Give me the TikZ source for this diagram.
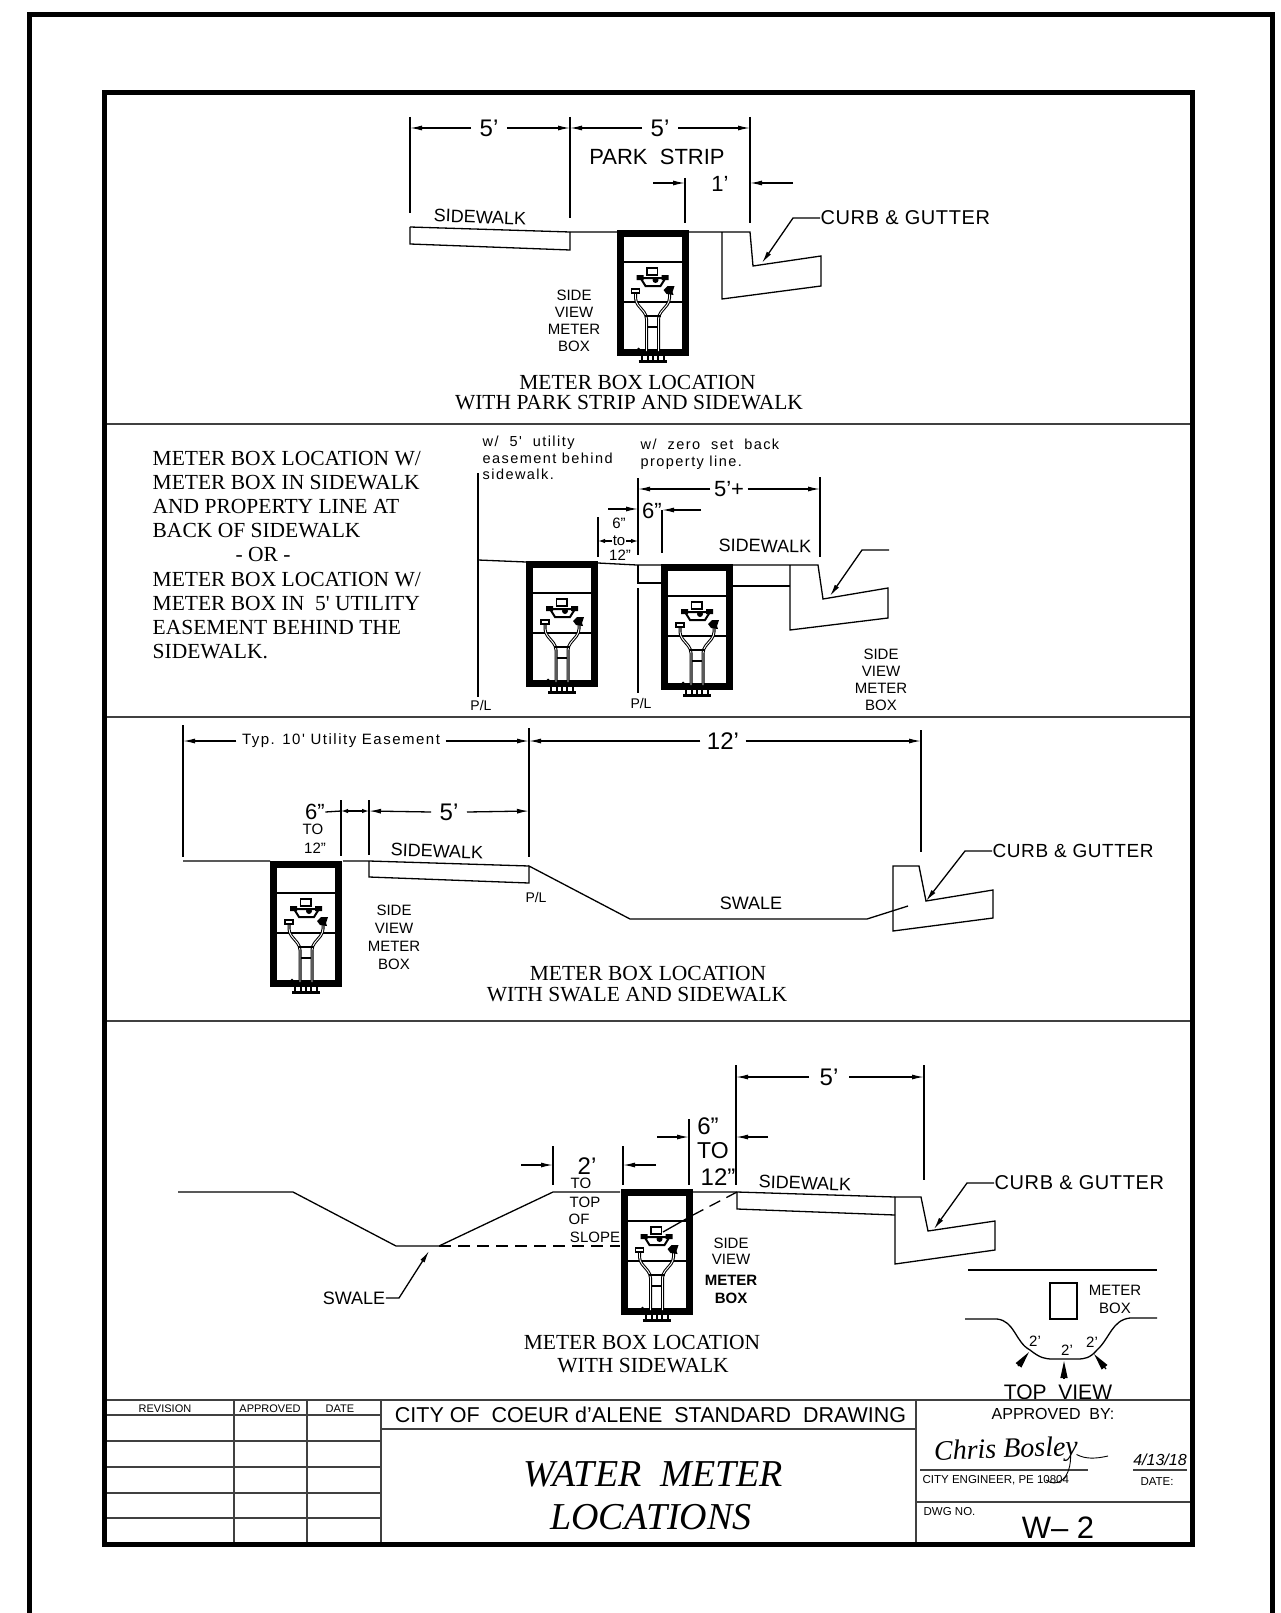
\documentclass[tikz,border=0pt]{standalone}
\usepackage{fontspec}
\setmainfont{Liberation Sans}
\newfontfamily\tnrfont{Liberation Serif}
\newfontfamily\cadwide[LetterSpace=10]{Liberation Sans}
\newfontfamily\cadmid[LetterSpace=3]{Liberation Sans}
\usepackage{tikz}
\usetikzlibrary{arrows.meta}
\tikzset{
	x=1pt, y=-1pt,
	every path/.style={line width=1.3pt},
	lbl/.style={inner sep=0pt, font=\fontsize{#1}{#1}\selectfont},
	lbl/.default=18,
	tnr/.style={inner sep=0pt, font=\tnrfont\fontsize{21.5}{24.2}\selectfont, align=left},
	note/.style={inner sep=0pt, anchor=west, align=left, font=\cadwide\fontsize{14.5}{16.5}\selectfont},
	curbtxt/.style={inner sep=0pt, anchor=west, font=\cadmid\fontsize{20}{20}\selectfont},
	sideview/.style={inner sep=0pt, align=center, font=\fontsize{15}{17}\selectfont},
	dimtip/.style={-{Latex[length=12pt,width=5pt]}},
	smalltip/.style={-{Latex[length=7pt,width=4.5pt]}},
	wedge/.style={-{Triangle[length=17pt,width=7pt]}},
	cutline/.style={dashed, dash pattern=on 12pt off 7pt},
	heavy/.style={line width=5pt},
	rule/.style={line width=1.8pt, black!75},
	meterbox/.pic={
		\draw[line width=7pt] (-32.5,3.5) rectangle (32.5,122.5);
		\draw (-29,32) -- (29,32) (-29,72) -- (29,72);
		% pipes
		\foreach \mcol/\mwid in {black/3pt, white/0.9pt}{
			\draw[\mcol, line width=\mwid, rounded corners=4pt] (-17,62) -- (-17,72) -- (-6,85) -- (-6,121);
			\draw[\mcol, line width=\mwid, rounded corners=4pt] (17,62) -- (17,72) -- (6,85) -- (6,121);
		}
		\draw[line width=2pt] (-8,86) -- (8,86);
		\draw (-5,97) -- (5,97);
		% meter
		\draw[line width=1.5pt] (-5.5,38) rectangle (5,45);
		\draw[line width=2pt] (-12,48) -- (13,48) -- (8,56) -- (-7,56) -- cycle;
		\fill (-16,45) rectangle (-9,50) (9,45) rectangle (16,50) (3,50) circle (3);
		\draw[line width=1.8pt] (-21,59) rectangle (-13,63);
		\fill (11,60) -- (15,56) -- (22,56) -- (20,62) -- (21,65) -- (14,64) -- cycle;
		% feet
		\draw[line width=3pt] (-14,131.5) -- (14,131.5);
		\foreach \mfoot in {-11,-5,0,5,11}{
			\draw[line width=2pt] (\mfoot,126) -- (\mfoot,132);
		}
		\fill (-14,119) circle (1.5);
	}
}
\begin{document}
\begin{tikzpicture}
	% Frames and section lines:
	\useasboundingbox (0,0) rectangle (1281,1613);
	\draw[heavy] (29,1613) |- (1272,15) -- (1272,1613);
	\draw[rule] (104,424) -- (1192,424);
	\draw[rule] (104,717) -- (1192,717);
	\draw[rule] (104,1021) -- (1192,1021);

	% Park strip and sidewalk:
	\draw (410,227) -- (570,232) -- (617,232);
	\draw (410,227) -- (410,244) -- (570,250) -- (570,232);
	\draw (688,232) -- (750,232) -- (753,266) -- (821,256) -- (821,286) -- (722,299) -- (722,232);
	\pic (boxA) at (652.5,230) {meterbox};
	\draw (410,117) -- (410,213);
	\draw (570,117) -- (570,218);
	\draw (750,117) -- (750,223);
	\draw (685,178) -- (685,223);
	\node[lbl=24] (dimAa) at (489,128) {5'};
	\node[lbl=24] (dimAb) at (660,128) {5'};
	\node[lbl=22] (dimAc) at (720,184) {1'};
	\draw[dimtip] (dimAa.west) ++(-8,0) -- (410,128);
	\draw[dimtip] (dimAa.east) ++(8,0) -- (570,128);
	\draw[dimtip] (dimAb.west) ++(-8,0) -- (570,128);
	\draw[dimtip] (dimAb.east) ++(8,0) -- (750,128);
	\draw[dimtip] (653,183) -- (685,183);
	\draw[dimtip] (793,183) -- (750,183);
	\node[lbl=22] (parkA) at (657,157) {PARK~~STRIP};
	\node[lbl=18, rotate=-2] (walkA) at (480,217) {SIDEWALK};
	\node[curbtxt] (curbA) at (820,218) {CURB \& GUTTER};
	\draw[dimtip] (curbA.west) -- (793,218) -- (762,263);
	\node[sideview] (viewA) at (574,321) {SIDE\\VIEW\\METER\\BOX};
	\node[tnr] (capAa) at (637.5,382) {METER BOX LOCATION};
	\node[tnr] (capAb) at (629,403) {WITH PARK STRIP AND SIDEWALK};

	% Property line at back of sidewalk:
	\node[tnr, anchor=west] (noteB) at (152,555) {METER BOX LOCATION W/\\METER BOX IN SIDEWALK\\AND PROPERTY LINE AT\\BACK OF SIDEWALK\\\hspace{83pt}- OR -\\METER BOX LOCATION W/\\METER BOX IN\ \ 5' UTILITY\\EASEMENT BEHIND THE\\SIDEWALK.};
	\draw (478,473) -- (478,697);
	\draw (478,560) -- (526,562) (598,563) -- (637,565) -- (661,565);
	\draw (733,565) -- (818,565) -- (823,599) -- (888,588) -- (888,618) -- (790,630) -- (790,565);
	\draw (733,586) -- (790,586);
	\draw (638,565) -- (638,583) -- (661,583);
	\draw (638,588) -- (638,693);
	\pic (boxBa) at (562,561) {meterbox};
	\pic (boxBb) at (697,564) {meterbox};
	\draw (638,478) -- (638,555);
	\draw (820,477) -- (820,557);
	\draw (662,510) -- (662,553);
	\draw (598,517) -- (598,557);
	\node[note] (noteBa) at (482,458) {w/~~5'~~utility\\easement~behind\\sidewalk.};
	\node[note] (noteBb) at (640,454) {w/~~zero~~set~~back\\property~line.};
	\node[lbl=22] (dimBa) at (729,489) {5'+};
	\draw[dimtip] (dimBa.west) ++(-3,0) -- (638,489);
	\draw[dimtip] (dimBa.east) ++(3,0) -- (820,489);
	\node[lbl=22] (dimBb) at (652,511) {6"};
	\draw[dimtip] (608,509) -- (638,509);
	\draw[dimtip] (701,510) -- (662,510);
	\node[lbl=15] (dimBc) at (619,523) {6"};
	\node[lbl=15] (dimBd) at (619,541) {to};
	\node[lbl=15] (dimBe) at (620,555) {12"};
	\draw[smalltip] (dimBd.west) -- (598,541);
	\draw[smalltip] (dimBd.east) -- (638,541);
	\node[lbl=18, rotate=-1] (walkB) at (765,546) {SIDEWALK};
	\coordinate (leadB) at (889,550);
	\draw[dimtip] (leadB) -- (862,550) -- (830,596);
	\node[lbl=14] (plBa) at (481,705) {P/L};
	\node[lbl=14] (plBb) at (641,703) {P/L};
	\node[sideview] (viewB) at (881,680) {SIDE\\VIEW\\METER\\BOX};

	% Swale and sidewalk:
	\draw (183,861) -- (270,861) (343,861) -- (369,861) -- (529,866);
	\draw (369,861) -- (369,877) -- (529,883) -- (529,866) -- (630,919) -- (867,919) -- (908,906);
	\draw (893,866) -- (919,866) -- (926,901) -- (993,890) -- (993,918) -- (893,931) -- cycle;
	\pic (boxC) at (306,861) {meterbox};
	\draw (183,725) -- (183,857);
	\draw (529,728) -- (529,857);
	\draw (921,730) -- (921,852);
	\draw[line width=1.8pt] (341,800) -- (341,856);
	\draw (369,800) -- (369,855);
	\node[inner sep=0pt, font=\cadwide\fontsize{15}{15}\selectfont] (dimCa) at (341,741) {Typ. 10' Utility Easement};
	\draw[dimtip] (dimCa.west) ++(-5,0) -- (183,741);
	\draw[dimtip] (dimCa.east) ++(5,0) -- (529,741);
	\node[lbl=24] (dimCb) at (723,741) {12'};
	\draw[dimtip] (dimCb.west) ++(-6,0) -- (529,741);
	\draw[dimtip] (dimCb.east) ++(6,0) -- (921,741);
	\node[lbl=22] (dimCc) at (315,812) {6"};
	\node[lbl=15] (dimCd) at (313,829) {TO};
	\node[lbl=15] (dimCe) at (315,848) {12"};
	\draw (dimCc.east) -- (341,811);
	\draw[{Latex[length=7pt,width=4.5pt]}-{Latex[length=7pt,width=4.5pt]}] (341,811) -- (369,811);
	\node[lbl=24] (dimCf) at (449,812) {5'};
	\draw[dimtip] (dimCf.west) ++(-8,0) -- (369,811);
	\draw[dimtip] (dimCf.east) ++(8,0) -- (529,811);
	\node[lbl=18, rotate=-2] (walkC) at (437,851) {SIDEWALK};
	\node[lbl=14] (plC) at (536,897) {P/L};
	\node[sideview, font=\fontsize{15}{18}\selectfont] (viewC) at (394,937) {SIDE\\VIEW\\METER\\BOX};
	\node[lbl=18] (swaleC) at (751,903) {SWALE};
	\node[curbtxt, font=\cadmid\fontsize{19}{19}\selectfont] (curbC) at (992,851) {CURB \& GUTTER};
	\draw[dimtip] (curbC.west) -- (965,851) -- (926,901);
	\node[tnr] (capCa) at (648,973) {METER BOX LOCATION};
	\node[tnr] (capCb) at (637,995) {WITH SWALE AND SIDEWALK};

	% Sidewalk only:
	\draw (178,1192) -- (293,1192) -- (396,1246) -- (439,1246) -- (553,1192) -- (620,1192);
	\draw[cutline] (439,1246) -- (620,1246);
	\draw (693,1192) -- (737,1192) -- (895,1197);
	\draw (737,1192) -- (737,1209) -- (895,1215);
	\draw (895,1197) -- (921,1197) -- (928,1231) -- (995,1221) -- (995,1250) -- (895,1264) -- cycle;
	\pic (boxD) at (656.5,1189) {meterbox};
	\draw[cutline] (737,1192) -- (693,1215);
	\draw (693,1215) -- (663,1232);
	\draw (736,1065) -- (736,1185);
	\draw (924,1065) -- (924,1180);
	\draw (689,1119) -- (689,1185);
	\draw (553,1146) -- (553,1185);
	\draw (623,1146) -- (623,1185);
	\node[lbl=24] (dimDa) at (829,1077) {5'};
	\draw[dimtip] (dimDa.west) ++(-10,0) -- (736,1077);
	\draw[dimtip] (dimDa.east) ++(10,0) -- (924,1077);
	\node[lbl=24] (dimDb) at (708,1126) {6"};
	\node[lbl=23] (dimDc) at (713,1151) {TO};
	\node[lbl=24] (dimDd) at (718,1177) {12"};
	\draw[dimtip] (657,1137) -- (689,1137);
	\draw[dimtip] (768,1137) -- (736,1137);
	\node[lbl=24] (dimDe) at (587,1166) {2'};
	\node[lbl=15] (dimDf) at (581,1183) {TO};
	\node[lbl=15] (dimDg) at (585,1202) {TOP};
	\node[lbl=15] (dimDh) at (579,1219) {OF};
	\node[lbl=15] (dimDi) at (595,1237) {SLOPE};
	\draw[dimtip] (521,1165) -- (553,1165);
	\draw[dimtip] (656,1165) -- (623,1165);
	\node[lbl=18, rotate=-2] (walkD) at (805,1183) {SIDEWALK};
	\node[sideview, font=\fontsize{15}{16.5}\selectfont] (viewD) at (731,1251) {SIDE\\VIEW};
	\node[sideview, font=\bfseries\fontsize{15}{18}\selectfont] (boldD) at (731,1289) {METER\\BOX};
	\node[curbtxt] (curbD) at (994,1183) {CURB \& GUTTER};
	\draw[dimtip] (curbD.west) -- (967,1183) -- (934,1229);
	\node[lbl=18] (swaleD) at (354,1298) {SWALE};
	\draw[dimtip] (swaleD.east) -- (399,1298) -- (429,1251);
	\node[tnr] (capDa) at (642,1342) {METER BOX LOCATION};
	\node[tnr] (capDb) at (643,1366) {WITH SIDEWALK};

	% Top view:
	\draw (968,1270) -- (1157,1270);
	\draw (1050,1283) rectangle (1077,1319);
	\node[sideview, font=\fontsize{15}{18}\selectfont] (viewE) at (1115,1299) {METER\\BOX};
	\draw (965,1319) -- (997,1319) .. controls (1015,1321) and (1015,1342) .. (1030,1350)
		.. controls (1040,1358) and (1045,1359) .. (1053,1359) -- (1077,1359)
		.. controls (1085,1359) and (1090,1358) .. (1097,1350)
		.. controls (1110,1338) and (1112,1320) .. (1130,1318) -- (1157,1318);
	\node[lbl=15] (topEa) at (1035,1341) {2'};
	\node[lbl=15] (topEb) at (1067,1350) {2'};
	\node[lbl=15] (topEc) at (1092,1342) {2'};
	\draw[wedge] (1018,1366) -- (1029,1352);
	\draw[wedge] (1064,1379) -- (1064,1361);
	\draw[wedge] (1106,1369) -- (1094,1354);
	\node[lbl=21] (topE) at (1058,1392) {TOP~~VIEW};

	% Title block:
	\draw[rule] (104,1400) -- (1192,1400);
	\draw[rule] (104,1415) -- (381,1415);
	\draw[rule] (104,1441) -- (381,1441);
	\draw[rule] (104,1467) -- (381,1467);
	\draw[rule] (104,1493) -- (381,1493);
	\draw[rule] (104,1518) -- (381,1518);
	\draw[rule] (381,1429) -- (916,1429);
	\draw[rule] (916,1502) -- (1192,1502);
	\draw[rule] (920,1470) -- (1088,1470);
	\draw[rule] (1133,1470) -- (1187,1470);
	\draw[rule] (234,1400) -- (234,1544);
	\draw[rule] (307,1400) -- (307,1544);
	\draw[rule] (381,1400) -- (381,1544);
	\draw[rule] (916,1400) -- (916,1544);
	\draw[heavy] (104,93) rectangle (1192,1544);
	\node[lbl=11] (revF) at (165,1409) {REVISION};
	\node[lbl=11] (apprF) at (270,1409) {APPROVED};
	\node[lbl=11] (dateF) at (340,1409) {DATE};
	\node[lbl=21.5] (cityF) at (650.5,1415) {CITY~OF~~COEUR~d'ALENE~~STANDARD~~DRAWING};
	\node[inner sep=0pt, font=\tnrfont\itshape\fontsize{38}{38}\selectfont] (waterF) at (653,1474) {WATER~~METER};
	\node[inner sep=0pt, font=\tnrfont\itshape\fontsize{38}{38}\selectfont] (locF) at (651,1517) {LOCATIONS};
	\node[lbl=16] (byF) at (1053,1414) {APPROVED~~BY:};
	\node[inner sep=0pt, rotate=2, font=\tnrfont\itshape\fontsize{28}{28}\selectfont] (signF) at (1006,1451) {Chris Bosley};
	\draw[line width=0.9pt] (signF.east) ++(-2,6) .. controls (1085,1459) and (1095,1459) .. (1108,1456);
	\draw[line width=0.9pt] (signF.east) ++(-8,4) .. controls (1072,1480) and (1056,1488) .. (1046,1480);
	\node[lbl=11.5, anchor=west] (engF) at (922,1480) {CITY ENGINEER, PE 10804};
	\node[inner sep=0pt, font=\itshape\fontsize{16}{16}\selectfont] (dateG) at (1160,1460) {4/13/18};
	\node[lbl=11.5] (dateH) at (1157,1482) {DATE:};
	\node[lbl=11.5, anchor=west] (dwgF) at (923,1512) {DWG NO.};
	\node[lbl=31] (numF) at (1058,1528) {W-- 2};
\end{tikzpicture}
\end{document}
